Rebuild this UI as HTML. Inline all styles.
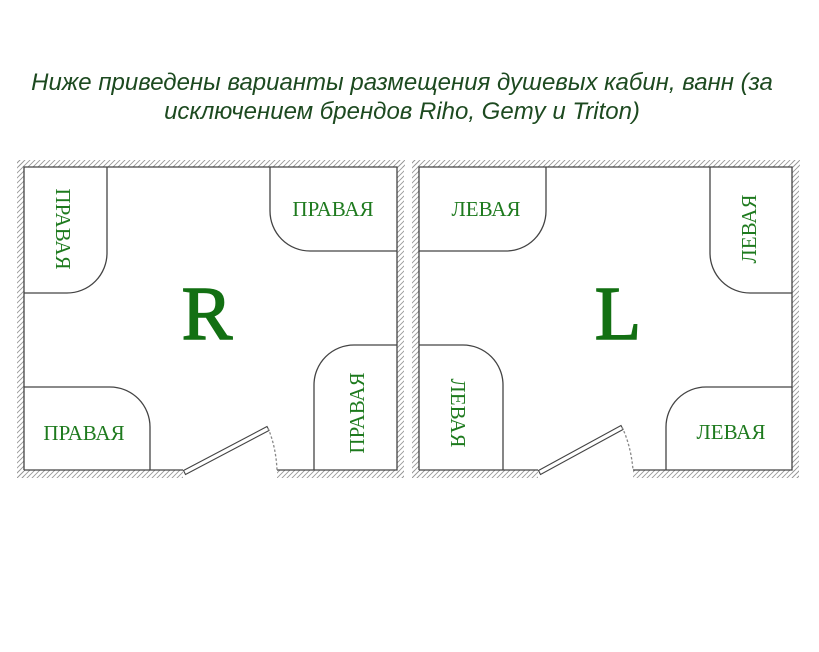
<!DOCTYPE html>
<html><head><meta charset="utf-8"><style>
html,body{margin:0;padding:0;background:#fff;width:819px;height:652px;overflow:hidden}
svg{display:block}
</style></head><body>
<svg width="819" height="652" viewBox="0 0 819 652" xmlns="http://www.w3.org/2000/svg">
<defs>
<pattern id="h" patternUnits="userSpaceOnUse" width="5" height="5">
<path d="M-1,6 L6,-1 M-1,1 L1,-1 M4,6 L6,4" stroke="#999" stroke-width="0.9"/>
</pattern>
</defs>
<g font-family="'Liberation Sans','DejaVu Sans',sans-serif" font-style="italic" font-size="24" fill="#1d4a20" text-anchor="middle">
<text x="402" y="90">Ниже приведены варианты размещения  душевых кабин, ванн (за</text>
<text x="402" y="119">исключением брендов Riho, Gemy и Triton)</text>
</g>

<!-- LEFT ROOM -->
<g>
<rect x="17" y="160" width="388" height="7" fill="url(#h)"/>
<rect x="17" y="160" width="7" height="318" fill="url(#h)"/>
<rect x="397" y="160" width="7" height="318" fill="url(#h)"/>
<rect x="17" y="470" width="166" height="8" fill="url(#h)"/>
<rect x="277" y="470" width="127" height="8" fill="url(#h)"/>
<g fill="none" stroke="#444" stroke-width="1.3">
<path d="M24,470 V167 H397 V470 H277 M183,470 H24"/>
<path d="M107,167 V253 A40,40 0 0 1 67,293 H24"/>
<path d="M270,167 V211 A40,40 0 0 0 310,251 H397"/>
<path d="M24,387 H110 A40,40 0 0 1 150,427 V470"/>
<path d="M314,470 V385 A40,40 0 0 1 354,345 H397"/>
<path d="M183.5,470.5 L267,426.5 L269,430.5 L185.5,474.5 Z" stroke-width="1.1"/>
<path d="M268,428 Q276,447 277,470" stroke-dasharray="2.5,2" stroke="#888"/>
</g>
<g font-family="'Liberation Serif','DejaVu Serif',serif" fill="#1e7a1e" font-size="21" text-anchor="middle">
<text x="333" y="216">ПРАВАЯ</text>
<text x="84" y="440">ПРАВАЯ</text>
<text transform="translate(56,229) rotate(90)">ПРАВАЯ</text>
<text transform="translate(364,413) rotate(-90)">ПРАВАЯ</text>
<text x="207" y="339" font-size="76" fill="#137013" stroke="#137013" stroke-width="1.5">R</text>
</g>
</g>

<!-- RIGHT ROOM -->
<g>
<rect x="412" y="160" width="388" height="7" fill="url(#h)"/>
<rect x="412" y="160" width="7" height="318" fill="url(#h)"/>
<rect x="792" y="160" width="7" height="318" fill="url(#h)"/>
<rect x="412" y="470" width="126" height="8" fill="url(#h)"/>
<rect x="633" y="470" width="166" height="8" fill="url(#h)"/>
<g fill="none" stroke="#444" stroke-width="1.3">
<path d="M419,470 V167 H792 V470 H633 M538,470 H419"/>
<path d="M546,167 V211 A40,40 0 0 1 506,251 H419"/>
<path d="M710,167 V253 A40,40 0 0 0 750,293 H792"/>
<path d="M419,345 H463 A40,40 0 0 1 503,385 V470"/>
<path d="M666,470 V427 A40,40 0 0 1 706,387 H792"/>
<path d="M538.5,470.5 L621,425.5 L623,429.5 L540.5,474.5 Z" stroke-width="1.1"/>
<path d="M622,427 Q631,446 633,470" stroke-dasharray="2.5,2" stroke="#888"/>
</g>
<g font-family="'Liberation Serif','DejaVu Serif',serif" fill="#1e7a1e" font-size="21" text-anchor="middle">
<text x="486" y="216">ЛЕВАЯ</text>
<text x="731" y="439">ЛЕВАЯ</text>
<text transform="translate(756,229) rotate(-90)">ЛЕВАЯ</text>
<text transform="translate(451,413) rotate(90)">ЛЕВАЯ</text>
<text x="618" y="339" font-size="76" fill="#137013" stroke="#137013" stroke-width="1.5">L</text>
</g>
</g>
</svg>
</body></html>
